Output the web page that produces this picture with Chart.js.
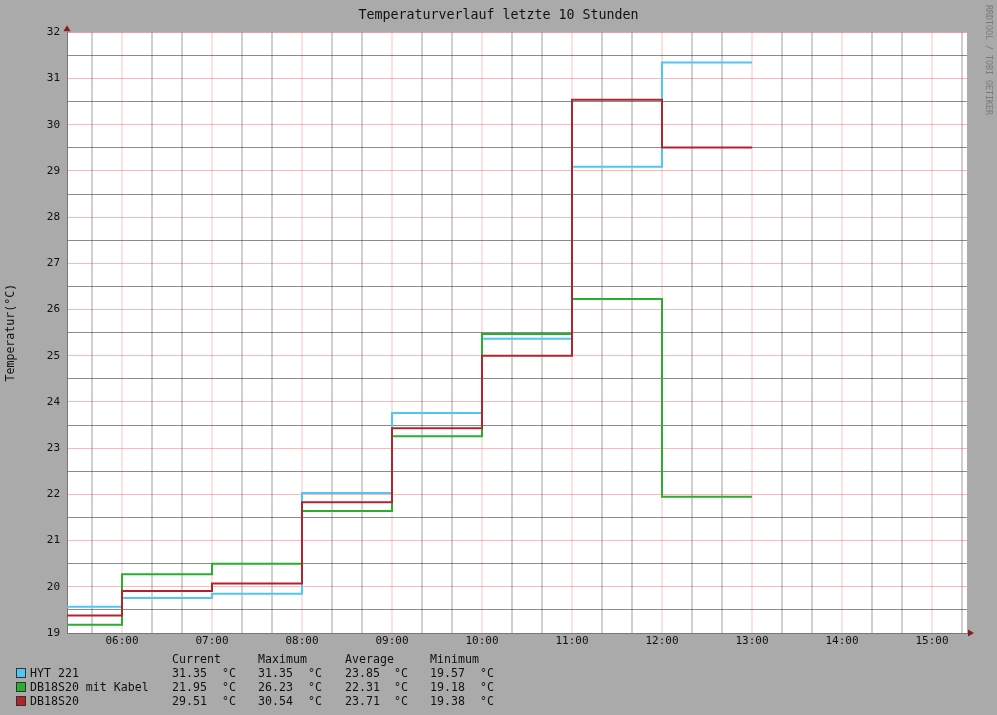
<!DOCTYPE html>
<html><head><meta charset="utf-8">
<script src="https://cdn.jsdelivr.net/npm/chart.js@4.4.1/dist/chart.umd.min.js"></script>
<style>
html,body{margin:0;padding:0;background:#aaaaaa;}
#wrap{position:relative;width:997px;height:715px;background:#aaaaaa;overflow:hidden;}
#c{position:absolute;left:0;top:0;}
.t{position:absolute;font-family:"DejaVu Sans Mono",monospace;font-size:11.6px;line-height:13px;color:#111;white-space:pre;}
.box{position:absolute;width:8px;height:8px;border:1px solid #333;}
#credit{position:absolute;left:984px;top:5px;font-family:"DejaVu Sans Mono",monospace;font-size:8.3px;color:#7a7a7a;writing-mode:vertical-rl;white-space:pre;}
</style></head><body>
<div id="wrap"><canvas id="c" width="997" height="715"></canvas><div id="legend"></div><div id="credit">RRDTOOL / TOBI OETIKER</div></div>
<script>
// ---- data ----
const chartTitle = 'Temperaturverlauf letzte 10 Stunden';
const yAxisTitle = 'Temperatur(°C)';
const windowStart = '05:23:20';
const windowEnd = '15:23:20';
const stepTimes = ['05:23:20','06:00','07:00','08:00','09:00','10:00','11:00','12:00','13:00'];
const seriesNames = ['HYT 221', 'DB18S20 mit Kabel', 'DB18S20'];
const seriesColors = ['rgb(80,198,245)', 'rgb(38,176,44)', 'rgb(176,36,46)'];
const hyt221 = [19.57, 19.76, 19.85, 22.03, 23.76, 25.37, 29.09, 31.35];
const db18s20Kabel = [19.18, 20.27, 20.50, 21.64, 23.26, 25.47, 26.23, 21.95];
const db18s20 = [19.38, 19.91, 20.07, 21.83, 23.43, 25.00, 30.54, 29.51];
const xTickLabels = ['06:00','07:00','08:00','09:00','10:00','11:00','12:00','13:00','14:00','15:00'];
const yTickLabels = [19,20,21,22,23,24,25,26,27,28,29,30,31,32];
const legendHeaders = ['Current', 'Maximum', 'Average', 'Minimum'];
const statCurrent = ['31.35', '21.95', '29.51'];
const statMaximum = ['31.35', '26.23', '30.54'];
const statAverage = ['23.85', '22.31', '23.71'];
const statMinimum = ['19.57', '19.18', '19.38'];
const unit = '°C';

// ---- helpers ----
function toMin(s){ const p = s.split(':').map(Number); return p[0]*60 + p[1] + (p[2]||0)/60; }
function stepData(vals){
  const pts = vals.map((v,i)=>({x: toMin(stepTimes[i]), y: v}));
  pts.push({x: toMin(stepTimes[stepTimes.length-1]), y: vals[vals.length-1]});
  return pts;
}
const allSeries = [hyt221, db18s20Kabel, db18s20];
const drawOrder = [2, 1, 0];
const xMin = toMin(windowStart), xMax = toMin(windowEnd);
const hourVals = xTickLabels.map(toMin);
const yMin = yTickLabels[0], yMax = yTickLabels[yTickLabels.length-1];

const mono = '"DejaVu Sans Mono", monospace';

const plotBg = {
  id: 'plotBg',
  beforeDraw(chart){
    const {ctx, chartArea: a} = chart;
    ctx.save(); ctx.fillStyle = '#ffffff';
    ctx.fillRect(a.left, a.top, a.right - a.left, a.bottom - a.top);
    ctx.restore();
  },
  afterDraw(chart){
    const {ctx, chartArea: a} = chart;
    ctx.save(); ctx.fillStyle = '#8b1a1a';
    ctx.beginPath(); ctx.moveTo(a.left-3.5, a.top-1); ctx.lineTo(a.left+3.5, a.top-1); ctx.lineTo(a.left, a.top-7); ctx.closePath(); ctx.fill();
    ctx.beginPath(); ctx.moveTo(a.right+1, a.bottom-3.5); ctx.lineTo(a.right+1, a.bottom+3.5); ctx.lineTo(a.right+7, a.bottom); ctx.closePath(); ctx.fill();
    ctx.restore();
  }
};

new Chart(document.getElementById('c'), {
  type: 'line',
  data: {
    datasets: allSeries.map((s,i)=>({
      label: seriesNames[i],
      data: stepData(s),
      borderColor: seriesColors[i],
      backgroundColor: seriesColors[i],
      borderWidth: 2,
      pointRadius: 0,
      stepped: 'before',
      fill: false,
      order: drawOrder[i]
    }))
  },
  options: {
    responsive: false,
    animation: false,
    events: [],
    layout: { padding: { top: 6.4, right: 0, left: 0, bottom: 0 } },
    plugins: {
      legend: { display: false },
      tooltip: { enabled: false },
      title: { display: true, text: chartTitle, color: '#111', font: { family: mono, size: 13.3, weight: 'normal' }, padding: { top: 1, bottom: 9 } }
    },
    scales: {
      x: {
        type: 'linear', min: xMin, max: xMax,
        afterBuildTicks(scale){
          const t = [];
          for (let v = Math.ceil(xMin/20)*20; v <= xMax; v += 20) t.push({value: v});
          scale.ticks = t;
        },
        afterFit(scale){ scale.height = 82; },
        ticks: {
          autoSkip: false, maxRotation: 0, padding: 2, color: '#111',
          font: { family: mono, size: 11 },
          callback(v){ const i = hourVals.indexOf(v); return i >= 0 ? xTickLabels[i] : ''; }
        },
        grid: {
          drawTicks: false, lineWidth: 2,
          color(ctx){ return (ctx.tick && ctx.tick.value % 60 === 0) ? 'rgba(255,0,0,0.12)' : 'rgba(0,0,0,0.19)'; }
        },
        border: { display: true, color: '#777', width: 1 }
      },
      y: {
        type: 'linear', min: yMin, max: yMax,
        afterBuildTicks(scale){
          const t = [];
          for (let v = yMin; v <= yMax + 1e-9; v += 0.5) t.push({value: v});
          scale.ticks = t;
        },
        afterFit(scale){ scale.width = 67; },
        ticks: {
          autoSkip: false, padding: 7, color: '#111',
          font: { family: mono, size: 11 },
          callback(v){ return Number.isInteger(v) && yTickLabels.includes(v) ? String(v) : ''; }
        },
        grid: {
          drawTicks: false, lineWidth: 1,
          color(ctx){ return (ctx.tick && Number.isInteger(ctx.tick.value)) ? 'rgba(255,0,0,0.28)' : 'rgba(0,0,0,0.45)'; }
        },
        border: { display: true, color: '#777', width: 1 },
        title: { display: true, text: yAxisTitle, color: '#111', font: { family: mono, size: 11.6 }, padding: { top: 4, bottom: 0 } }
      },
      yRight: {
        type: 'linear', position: 'right', min: yMin, max: yMax,
        afterFit(scale){ scale.width = 30; },
        grid: { display: false, drawTicks: false },
        ticks: { display: false },
        border: { display: false }
      }
    }
  },
  plugins: [plotBg]
});

// ---- legend table (HTML text) ----
const lg = document.getElementById('legend');
const colX = [172, 258, 345, 430];
const unitX = [222, 308, 394, 480];
const rowY = [667, 681, 695];
const stats = [statCurrent, statMaximum, statAverage, statMinimum];
function addText(txt, x, y){ const d = document.createElement('div'); d.className = 't'; d.textContent = txt; d.style.left = x+'px'; d.style.top = y+'px'; lg.appendChild(d); }
legendHeaders.forEach((h,j)=>addText(h, colX[j], 653));
seriesNames.forEach((n,i)=>{
  const b = document.createElement('div'); b.className = 'box'; b.style.left = '16px'; b.style.top = (rowY[i]+1)+'px'; b.style.background = seriesColors[i]; lg.appendChild(b);
  addText(n, 30, rowY[i]);
  stats.forEach((s,j)=>{ addText(s[i], colX[j], rowY[i]); addText(unit, unitX[j], rowY[i]); });
});
</script>
</body></html>
